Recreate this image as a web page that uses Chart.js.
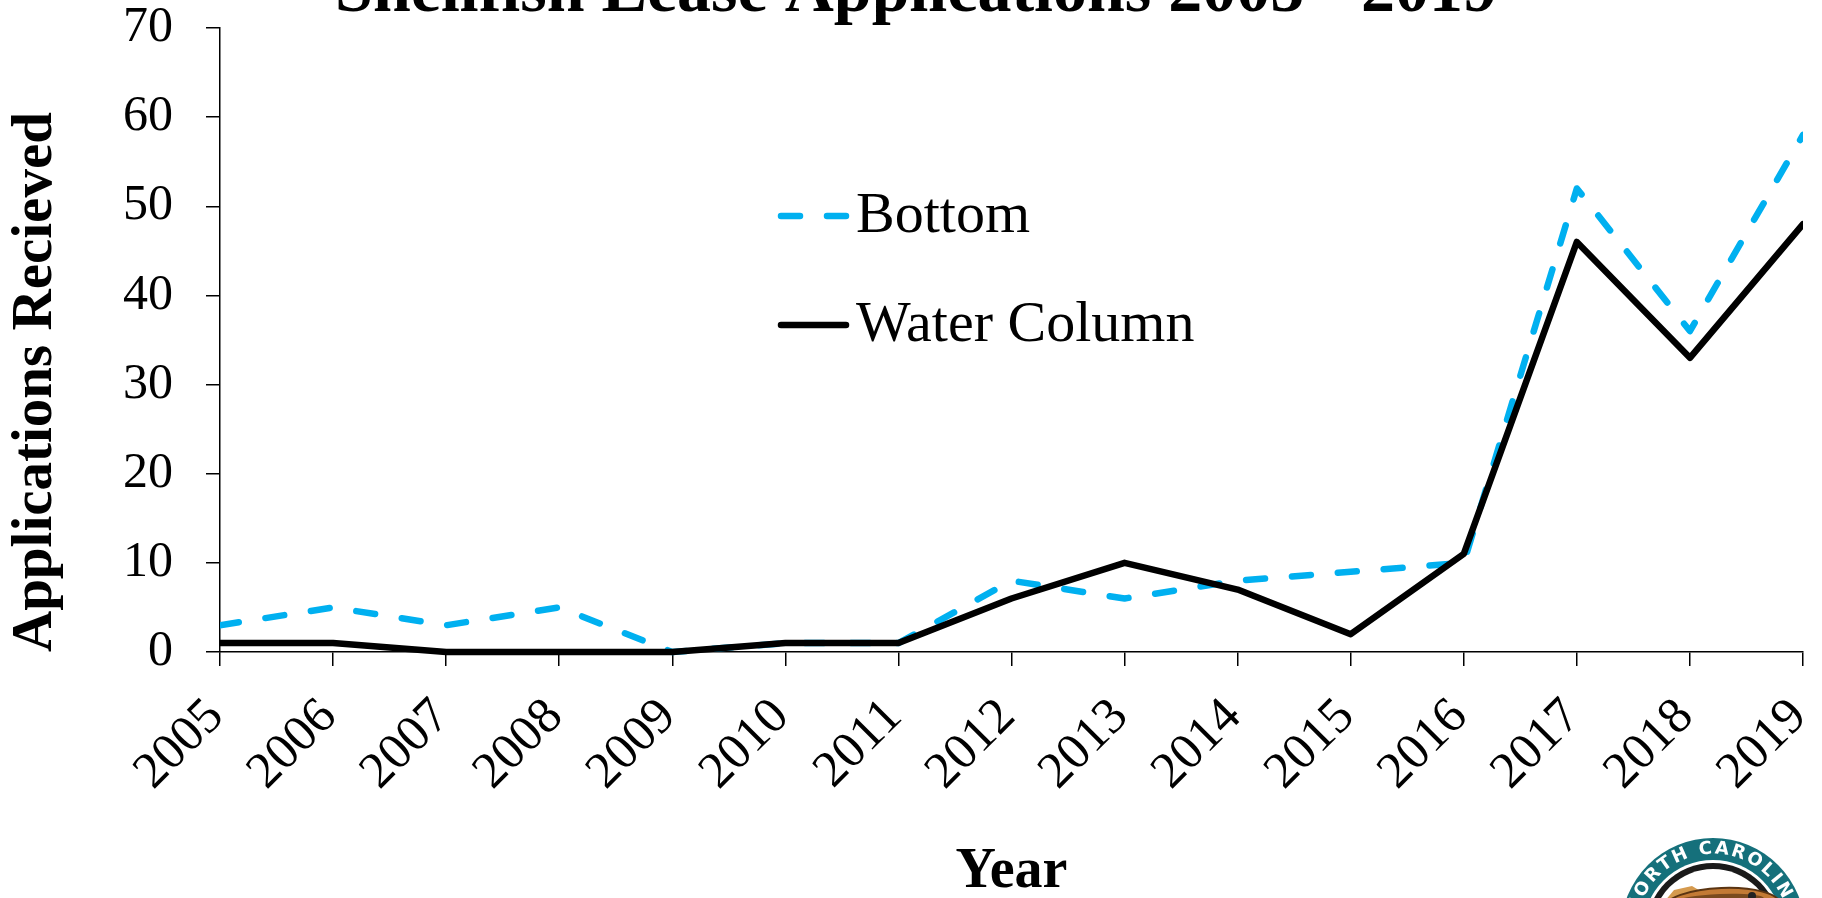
<!DOCTYPE html>
<html>
<head>
<meta charset="utf-8">
<script src="https://cdn.jsdelivr.net/npm/chart.js@4/dist/chart.umd.min.js"></script>
<style>
html,body{margin:0;padding:0;background:#fff;overflow:hidden}
#wrap{position:relative;width:1822px;height:898px}
canvas{display:block}
</style>
</head>
<body>
<div id="wrap"><canvas id="c" width="1822" height="898"></canvas></div>
<script>
// ---- data ----
const years = ['2005','2006','2007','2008','2009','2010','2011','2012','2013','2014','2015','2016','2017','2018','2019'];
const bottomValues = [3, 5, 3, 5, 0, 1, 1, 8, 6, 8, 9, 10, 52, 36, 58];
const waterColumnValues = [1, 1, 0, 0, 0, 1, 1, 6, 10, 7, 2, 11, 46, 33, 48];
const yTicks = [0, 10, 20, 30, 40, 50, 60, 70];
const seriesNames = ['Bottom', 'Water Column'];
const chartTitle = 'Shellfish Lease Applications 2005 - 2019';
const xAxisTitle = 'Year';
const yAxisTitle = 'Applications Recieved';
const logoText = 'NORTH CAROLINA';

const FONT = '"Liberation Serif", "Times New Roman", serif';

const titlePlugin = {
  id: 'refTitle',
  afterDraw(chart) {
    const ctx = chart.ctx;
    ctx.save();
    ctx.font = 'bold 68px ' + FONT;
    ctx.fillStyle = '#000';
    ctx.textAlign = 'center';
    ctx.textBaseline = 'alphabetic';
    ctx.fillText(chartTitle, chart.width / 2 + 5, 11);
    ctx.restore();
  }
};

const legendPlugin = {
  id: 'refLegend',
  afterDraw(chart) {
    const ctx = chart.ctx;
    const rows = [
      {ds: chart.data.datasets[0], y: 216},
      {ds: chart.data.datasets[1], y: 325}
    ];
    ctx.save();
    rows.forEach(r => {
      ctx.beginPath();
      ctx.strokeStyle = r.ds.borderColor;
      ctx.lineWidth = r.ds.borderWidth;
      ctx.lineCap = 'round';
      ctx.setLineDash(r.ds.borderDash || []);
      ctx.moveTo(781, r.y);
      ctx.lineTo(846, r.y);
      ctx.stroke();
      ctx.setLineDash([]);
      ctx.font = '58px ' + FONT;
      ctx.fillStyle = '#000';
      ctx.textAlign = 'left';
      ctx.textBaseline = 'middle';
      ctx.fillText(r.ds.label, 856, r.y + 1);
    });
    ctx.restore();
  }
};

const logoPlugin = {
  id: 'logo',
  afterDraw(chart) {
    const ctx = chart.ctx;
    const cx = 1713, cy = 930;
    ctx.save();
    const circ = (r, c) => { ctx.beginPath(); ctx.arc(cx, cy, r, 0, Math.PI * 2); ctx.fillStyle = c; ctx.fill(); };
    circ(92, '#15707b');
    circ(70, '#ffffff');
    circ(67, '#1a1a1a');
    circ(61, '#ffffff');
    // fish
    ctx.save();
    ctx.translate(1722, 906);
    ctx.beginPath();
    ctx.moveTo(-58, -4);
    ctx.lineTo(-48, -16);
    ctx.lineTo(-30, -20);
    ctx.lineTo(-20, -14);
    ctx.lineTo(-44, -6);
    ctx.closePath();
    ctx.fillStyle = '#d59a4e';
    ctx.fill();
    ctx.beginPath();
    ctx.ellipse(0, 0, 58, 18, -0.04, 0, Math.PI * 2);
    ctx.fillStyle = '#c37a35';
    ctx.fill();
    ctx.lineWidth = 2;
    ctx.strokeStyle = '#5a3412';
    ctx.stroke();
    ctx.beginPath();
    ctx.ellipse(-2, -6, 44, 6, -0.04, 0, Math.PI * 2);
    ctx.fillStyle = '#7a4a1e';
    ctx.fill();
    ctx.beginPath();
    ctx.arc(30, -10, 4, 0, Math.PI * 2);
    ctx.fillStyle = '#222';
    ctx.fill();
    ctx.restore();
    // arc text
    ctx.font = 'bold 18px "DejaVu Sans", sans-serif';
    ctx.fillStyle = '#ffffff';
    ctx.textAlign = 'center';
    ctx.textBaseline = 'middle';
    const r = 81;
    const spacing = 3;
    const widths = [...logoText].map(ch => ctx.measureText(ch).width + spacing);
    const total = widths.reduce((a, b) => a + b, 0);
    let ang = -Math.PI / 2 - (total / r) / 2;
    [...logoText].forEach((ch, i) => {
      const a = ang + (widths[i] / 2) / r;
      ctx.save();
      ctx.translate(cx + r * Math.cos(a), cy + r * Math.sin(a));
      ctx.rotate(a + Math.PI / 2);
      ctx.fillText(ch, 0, 0);
      ctx.restore();
      ang += widths[i] / r;
    });
    ctx.restore();
  }
};

const axisGrid = {display: true, drawOnChartArea: false, drawTicks: true, tickLength: 14, color: '#000', lineWidth: 1.5};
const axisBorder = {display: true, color: '#000', width: 1.5};

new Chart(document.getElementById('c'), {
  type: 'line',
  data: {
    labels: years,
    datasets: [
      {
        label: seriesNames[0],
        data: bottomValues,
        borderColor: '#00B0F0',
        backgroundColor: '#00B0F0',
        borderWidth: 6.5,
        borderDash: [19, 27],
        borderCapStyle: 'round',
        borderJoinStyle: 'round',
        pointRadius: 0,
        tension: 0,
        fill: false,
        order: 1,
        clip: {left: 0, right: 0, top: false, bottom: false}
      },
      {
        label: seriesNames[1],
        data: waterColumnValues,
        borderColor: '#000000',
        backgroundColor: '#000000',
        borderWidth: 6.5,
        borderCapStyle: 'round',
        borderJoinStyle: 'round',
        pointRadius: 0,
        tension: 0,
        fill: false,
        order: 0,
        clip: {left: 0, right: 0, top: false, bottom: false}
      }
    ]
  },
  options: {
    responsive: false,
    animation: false,
    devicePixelRatio: 1,
    events: [],
    layout: {padding: {top: 28, right: 19, left: 0, bottom: 0}},
    plugins: {
      legend: {display: false},
      tooltip: {enabled: false},
      title: {display: false}
    },
    scales: {
      x: {
        type: 'category',
        offset: false,
        grid: axisGrid,
        border: axisBorder,
        ticks: {
          autoSkip: false,
          minRotation: 45,
          maxRotation: 45,
          padding: 21,
          labelOffset: -4,
          color: '#000',
          font: {family: FONT, size: 51, lineHeight: 1.2}
        },
        title: {
          display: true,
          text: xAxisTitle,
          color: '#000',
          font: {family: FONT, size: 56, weight: 'bold', lineHeight: 1.0},
          padding: {top: 0, bottom: -3}
        },
        afterFit(s) { s.height = 246; s.paddingLeft = 0; s.paddingRight = 0; }
      },
      y: {
        min: 0,
        max: 70,
        afterBuildTicks(s) { s.ticks = yTicks.map(v => ({value: v})); },
        grid: axisGrid,
        border: axisBorder,
        ticks: {
          padding: 33,
          color: '#000',
          font: {family: FONT, size: 50, lineHeight: 1.0}
        },
        title: {
          display: true,
          text: yAxisTitle,
          align: 'start',
          color: '#000',
          font: {family: FONT, size: 57, weight: 'bold', lineHeight: 1.2},
          padding: {top: 2, bottom: 0}
        },
        afterFit(s) { s.width = 220; s.paddingTop = 0; s.paddingBottom = 0; }
      }
    }
  },
  plugins: [titlePlugin, legendPlugin, logoPlugin]
});
</script>
</body>
</html>
